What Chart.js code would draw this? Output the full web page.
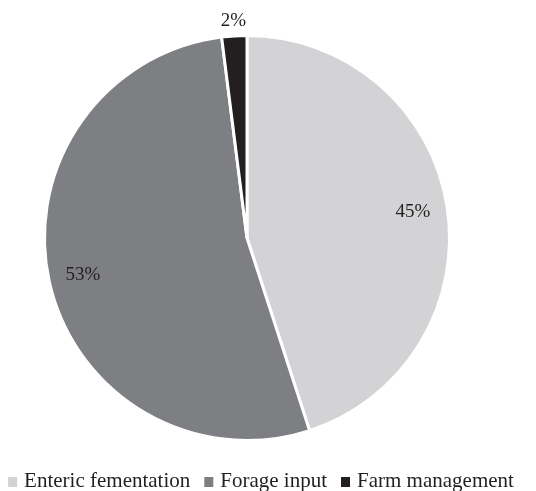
<!DOCTYPE html>
<html>
<head>
<meta charset="utf-8">
<script src="https://cdn.jsdelivr.net/npm/chart.js@4/dist/chart.umd.min.js"></script>
<style>
  html, body { margin: 0; padding: 0; background: #fff; }
  #wrap { width: 536px; height: 491px; }
</style>
</head>
<body>
<div id="wrap"><canvas id="chart" width="536" height="491"></canvas></div>
<script>
const categories = ['Enteric fementation', 'Forage input', 'Farm management'];
const shares = [45, 53, 2];
const valueLabels = ['45%', '53%', '2%'];
const sliceColors = ['#d3d3d5', '#7e7f83', '#231f20'];

const SERIF = '"Liberation Serif", "Times New Roman", serif';
const INK = '#231f20';

// percent text inside the slices, small slices get it just outside
const sliceLabels = {
    id: 'sliceLabels',
    afterDatasetsDraw(chart) {
        const ctx = chart.ctx;
        const meta = chart.getDatasetMeta(0);
        const total = shares.reduce((a, b) => a + b, 0);
        ctx.save();
        ctx.font = '19px ' + SERIF;
        ctx.fillStyle = INK;
        ctx.textAlign = 'center';
        ctx.textBaseline = 'middle';
        meta.data.forEach((arc, i) => {
            const p = arc.getProps(['x', 'y', 'startAngle', 'endAngle', 'outerRadius'], true);
            const mid = (p.startAngle + p.endAngle) / 2;
            const r = shares[i] / total < 0.05 ? p.outerRadius + 15 : p.outerRadius * 0.83;
            ctx.fillText(valueLabels[i], p.x + Math.cos(mid) * r, p.y + Math.sin(mid) * r);
        });
        ctx.restore();
    }
};

// legend row along the bottom, small squares sitting on the baseline
const bottomLegend = {
    id: 'bottomLegend',
    afterDraw(chart) {
        const ctx = chart.ctx;
        ctx.save();
        ctx.font = '21px ' + SERIF;
        ctx.textBaseline = 'alphabetic';
        const boxW = 9, boxH = 10, gapText = 7, gapItem = 14;
        const widths = categories.map(t => ctx.measureText(t).width);
        const total = widths.reduce((s, w) => s + boxW + gapText + w, 0) + gapItem * (categories.length - 1);
        let x = 261 - total / 2;
        const baseline = 487;
        categories.forEach((name, i) => {
            ctx.fillStyle = sliceColors[i];
            ctx.fillRect(x, baseline - boxH, boxW, boxH);
            x += boxW + gapText;
            ctx.fillStyle = INK;
            ctx.fillText(name, x, baseline);
            x += widths[i] + gapItem;
        });
        ctx.restore();
    }
};

new Chart(document.getElementById('chart').getContext('2d'), {
    type: 'pie',
    data: {
        labels: categories,
        datasets: [{
            data: shares,
            backgroundColor: sliceColors,
            borderColor: '#ffffff',
            borderWidth: 3
        }]
    },
    options: {
        responsive: false,
        animation: false,
        layout: {
            padding: { left: 43, top: 34, right: 85, bottom: 49 }
        },
        plugins: {
            legend: { display: false },
            tooltip: { enabled: false }
        }
    },
    plugins: [sliceLabels, bottomLegend]
});
</script>
</body>
</html>
